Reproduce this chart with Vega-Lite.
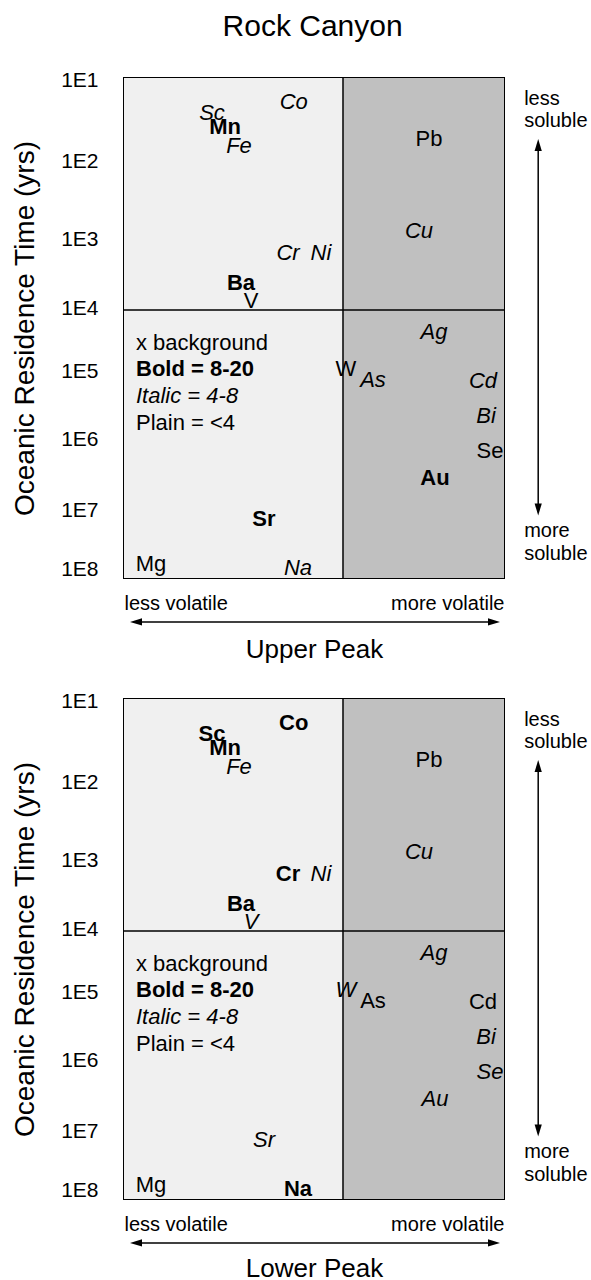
{
  "$schema": "https://vega.github.io/schema/vega-lite/v6.json",
  "padding": {"left": 10, "top": 12, "right": 5, "bottom": 5},
  "background": "white",
  "title": {"text": "Rock Canyon", "fontSize": 30, "fontWeight": "normal", "color": "black", "anchor": "middle", "offset": 26, "dx": 13},
  "config": {
    "font": "Liberation Sans",
    "view": {"stroke": "black", "strokeWidth": 2},
    "concat": {"spacing": 26}
  },
  "datasets": {
    "zones": [
      {"zone": "low", "x0": 0, "x1": 5.763, "y0": 1, "y1": 8.142857},
      {"zone": "high", "x0": 5.763, "x1": 10, "y0": 1, "y1": 8.142857}
    ],
    "lines": [
      {"x0": 5.763, "x1": 5.763, "y0": 1, "y1": 8.142857},
      {"x0": 0, "x1": 10, "y0": 4.314, "y1": 4.314},
      {"x0": 0.26, "x1": 9.79, "y0": 8.771, "y1": 8.771},
      {"x0": 10.9, "x1": 10.9, "y0": 1.93, "y1": 7.19}
    ],
    "heads": [
      {"x": 0.158, "y": 8.771, "dir": "left"},
      {"x": 9.895, "y": 8.771, "dir": "right"},
      {"x": 10.9, "y": 1.871, "dir": "up"},
      {"x": 10.9, "y": 7.25, "dir": "down"}
    ],
    "side": [
      {"label": "less", "x": 10.53, "y": 1.3},
      {"label": "soluble", "x": 10.53, "y": 1.614},
      {"label": "more", "x": 10.53, "y": 7.471},
      {"label": "soluble", "x": 10.53, "y": 7.8}
    ],
    "key": [
      {"label": "x background", "x": 0.316, "y": 4.786, "style": "plain"},
      {"label": "Bold = 8-20", "x": 0.316, "y": 5.157, "style": "bold"},
      {"label": "Italic = 4-8", "x": 0.316, "y": 5.543, "style": "italic"},
      {"label": "Plain = <4", "x": 0.316, "y": 5.929, "style": "plain"}
    ],
    "elements": [
      {"panel": "Upper Peak", "el": "Co", "x": 4.466, "y": 1.343, "style": "italic"},
      {"panel": "Upper Peak", "el": "Sc", "x": 2.316, "y": 1.5, "style": "italic"},
      {"panel": "Upper Peak", "el": "Mn", "x": 2.658, "y": 1.7, "style": "bold"},
      {"panel": "Upper Peak", "el": "Fe", "x": 3.026, "y": 1.971, "style": "italic"},
      {"panel": "Upper Peak", "el": "Cr", "x": 4.316, "y": 3.5, "style": "italic"},
      {"panel": "Upper Peak", "el": "Ni", "x": 5.184, "y": 3.5, "style": "italic"},
      {"panel": "Upper Peak", "el": "Ba", "x": 3.079, "y": 3.929, "style": "bold"},
      {"panel": "Upper Peak", "el": "V", "x": 3.342, "y": 4.179, "style": "plain"},
      {"panel": "Upper Peak", "el": "Pb", "x": 8.026, "y": 1.871, "style": "plain"},
      {"panel": "Upper Peak", "el": "Cu", "x": 7.763, "y": 3.186, "style": "italic"},
      {"panel": "Upper Peak", "el": "Ag", "x": 8.158, "y": 4.629, "style": "italic"},
      {"panel": "Upper Peak", "el": "W", "x": 5.842, "y": 5.157, "style": "plain"},
      {"panel": "Upper Peak", "el": "As", "x": 6.553, "y": 5.314, "style": "italic"},
      {"panel": "Upper Peak", "el": "Cd", "x": 9.447, "y": 5.329, "style": "italic"},
      {"panel": "Upper Peak", "el": "Bi", "x": 9.526, "y": 5.829, "style": "italic"},
      {"panel": "Upper Peak", "el": "Se", "x": 9.632, "y": 6.329, "style": "plain"},
      {"panel": "Upper Peak", "el": "Au", "x": 8.184, "y": 6.714, "style": "bold"},
      {"panel": "Upper Peak", "el": "Sr", "x": 3.684, "y": 7.3, "style": "bold"},
      {"panel": "Upper Peak", "el": "Mg", "x": 0.711, "y": 7.943, "style": "plain"},
      {"panel": "Upper Peak", "el": "Na", "x": 4.579, "y": 8.0, "style": "italic"},
      {"panel": "Lower Peak", "el": "Co", "x": 4.466, "y": 1.343, "style": "bold"},
      {"panel": "Lower Peak", "el": "Sc", "x": 2.316, "y": 1.5, "style": "bold"},
      {"panel": "Lower Peak", "el": "Mn", "x": 2.658, "y": 1.7, "style": "bold"},
      {"panel": "Lower Peak", "el": "Fe", "x": 3.026, "y": 1.971, "style": "italic"},
      {"panel": "Lower Peak", "el": "Cr", "x": 4.316, "y": 3.5, "style": "bold"},
      {"panel": "Lower Peak", "el": "Ni", "x": 5.184, "y": 3.5, "style": "italic"},
      {"panel": "Lower Peak", "el": "Ba", "x": 3.079, "y": 3.929, "style": "bold"},
      {"panel": "Lower Peak", "el": "V", "x": 3.342, "y": 4.179, "style": "italic"},
      {"panel": "Lower Peak", "el": "Pb", "x": 8.026, "y": 1.871, "style": "plain"},
      {"panel": "Lower Peak", "el": "Cu", "x": 7.763, "y": 3.186, "style": "italic"},
      {"panel": "Lower Peak", "el": "Ag", "x": 8.158, "y": 4.629, "style": "italic"},
      {"panel": "Lower Peak", "el": "W", "x": 5.842, "y": 5.157, "style": "italic"},
      {"panel": "Lower Peak", "el": "As", "x": 6.553, "y": 5.314, "style": "plain"},
      {"panel": "Lower Peak", "el": "Cd", "x": 9.447, "y": 5.329, "style": "plain"},
      {"panel": "Lower Peak", "el": "Bi", "x": 9.526, "y": 5.829, "style": "italic"},
      {"panel": "Lower Peak", "el": "Se", "x": 9.632, "y": 6.329, "style": "italic"},
      {"panel": "Lower Peak", "el": "Au", "x": 8.184, "y": 6.714, "style": "italic"},
      {"panel": "Lower Peak", "el": "Sr", "x": 3.684, "y": 7.3, "style": "italic"},
      {"panel": "Lower Peak", "el": "Mg", "x": 0.711, "y": 7.943, "style": "plain"},
      {"panel": "Lower Peak", "el": "Na", "x": 4.579, "y": 8.0, "style": "bold"}
    ]
  },
  "vconcat": [
    {
      "width": 380, "height": 500,
      "layer": [
        {"data": {"name": "zones"}, "mark": {"type": "rect"},
         "encoding": {
           "x": {"field": "x0", "type": "quantitative", "scale": {"domain": [0, 10], "nice": false, "zero": false},
                 "axis": {"values": [0, 10], "labelExpr": "datum.value == 0 ? 'less volatile' : 'more volatile'", "ticks": false, "domain": false, "grid": false, "labelFontSize": 20, "labelColor": "black", "labelPadding": 15, "labelOverlap": false, "labelFlush": true, "title": "Upper Peak", "titleFontSize": 26, "titleFontWeight": "normal", "titleColor": "black", "titlePadding": 23}},
           "x2": {"field": "x1"},
           "y": {"field": "y0", "type": "quantitative", "scale": {"domain": [1, 8.142857], "reverse": true, "nice": false, "zero": false},
                 "axis": {"values": [1, 2, 3, 4, 5, 6, 7, 8], "labelExpr": "'1E' + datum.value", "ticks": false, "domain": false, "grid": false, "labelFontSize": 21, "labelColor": "black", "labelPadding": 26, "labelOverlap": false, "labelBound": false, "labelBaseline": "middle",
                          "labelOffset": {"condition": [{"test": "datum.value == 1", "value": 2}, {"test": "datum.value == 2", "value": 13}, {"test": "datum.value == 3", "value": 21}, {"test": "datum.value == 4", "value": 20}, {"test": "datum.value == 5", "value": 13}, {"test": "datum.value == 6", "value": 11}, {"test": "datum.value == 7", "value": 12}, {"test": "datum.value == 8", "value": 1}], "value": 0},
                          "title": "Oceanic Residence Time (yrs)", "titleFontSize": 28, "titleFontWeight": "normal", "titleColor": "black", "titlePadding": 21}},
           "y2": {"field": "y1"},
           "color": {"field": "zone", "type": "nominal", "scale": {"domain": ["low", "high"], "range": ["#f0f0f0", "#c0c0c0"]}, "legend": null}
         }},
        {"data": {"name": "lines"}, "mark": {"type": "rule", "color": "black", "strokeWidth": 1.5},
         "encoding": {"x": {"field": "x0", "type": "quantitative"}, "x2": {"field": "x1"}, "y": {"field": "y0", "type": "quantitative"}, "y2": {"field": "y1"}}},
        {"data": {"name": "heads"}, "mark": {"type": "point", "filled": true, "color": "black", "opacity": 1, "size": 144, "strokeWidth": 0},
         "encoding": {"x": {"field": "x", "type": "quantitative"}, "y": {"field": "y", "type": "quantitative"},
                      "shape": {"field": "dir", "type": "nominal", "scale": {"domain": ["left", "right", "up", "down"], "range": ["M0,0L2,-0.6L2,0.6Z", "M0,0L-2,-0.6L-2,0.6Z", "M0,0L-0.6,2L0.6,2Z", "M0,0L-0.6,-2L0.6,-2Z"]}, "legend": null}}},
        {"data": {"name": "side"}, "mark": {"type": "text", "align": "left", "baseline": "middle", "fontSize": 20, "color": "black"},
         "encoding": {"x": {"field": "x", "type": "quantitative"}, "y": {"field": "y", "type": "quantitative"}, "text": {"field": "label"}}},
        {"data": {"name": "key"}, "transform": [{"filter": "datum.style == 'plain'"}], "mark": {"type": "text", "align": "left", "baseline": "middle", "fontSize": 22, "color": "black"},
         "encoding": {"x": {"field": "x", "type": "quantitative"}, "y": {"field": "y", "type": "quantitative"}, "text": {"field": "label"}}},
        {"data": {"name": "key"}, "transform": [{"filter": "datum.style == 'bold'"}], "mark": {"type": "text", "align": "left", "baseline": "middle", "fontSize": 22, "fontWeight": "bold", "color": "black"},
         "encoding": {"x": {"field": "x", "type": "quantitative"}, "y": {"field": "y", "type": "quantitative"}, "text": {"field": "label"}}},
        {"data": {"name": "key"}, "transform": [{"filter": "datum.style == 'italic'"}], "mark": {"type": "text", "align": "left", "baseline": "middle", "fontSize": 22, "fontStyle": "italic", "color": "black"},
         "encoding": {"x": {"field": "x", "type": "quantitative"}, "y": {"field": "y", "type": "quantitative"}, "text": {"field": "label"}}},
        {"data": {"name": "elements"}, "transform": [{"filter": "datum.panel == 'Upper Peak' && datum.style == 'plain'"}], "mark": {"type": "text", "align": "center", "baseline": "middle", "fontSize": 22, "color": "black"},
         "encoding": {"x": {"field": "x", "type": "quantitative"}, "y": {"field": "y", "type": "quantitative"}, "text": {"field": "el"}}},
        {"data": {"name": "elements"}, "transform": [{"filter": "datum.panel == 'Upper Peak' && datum.style == 'bold'"}], "mark": {"type": "text", "align": "center", "baseline": "middle", "fontSize": 22, "fontWeight": "bold", "color": "black"},
         "encoding": {"x": {"field": "x", "type": "quantitative"}, "y": {"field": "y", "type": "quantitative"}, "text": {"field": "el"}}},
        {"data": {"name": "elements"}, "transform": [{"filter": "datum.panel == 'Upper Peak' && datum.style == 'italic'"}], "mark": {"type": "text", "align": "center", "baseline": "middle", "fontSize": 22, "fontStyle": "italic", "color": "black"},
         "encoding": {"x": {"field": "x", "type": "quantitative"}, "y": {"field": "y", "type": "quantitative"}, "text": {"field": "el"}}}
      ]
    },
    {
      "width": 380, "height": 500,
      "layer": [
        {"data": {"name": "zones"}, "mark": {"type": "rect"},
         "encoding": {
           "x": {"field": "x0", "type": "quantitative", "scale": {"domain": [0, 10], "nice": false, "zero": false},
                 "axis": {"values": [0, 10], "labelExpr": "datum.value == 0 ? 'less volatile' : 'more volatile'", "ticks": false, "domain": false, "grid": false, "labelFontSize": 20, "labelColor": "black", "labelPadding": 15, "labelOverlap": false, "labelFlush": true, "title": "Lower Peak", "titleFontSize": 26, "titleFontWeight": "normal", "titleColor": "black", "titlePadding": 21}},
           "x2": {"field": "x1"},
           "y": {"field": "y0", "type": "quantitative", "scale": {"domain": [1, 8.142857], "reverse": true, "nice": false, "zero": false},
                 "axis": {"values": [1, 2, 3, 4, 5, 6, 7, 8], "labelExpr": "'1E' + datum.value", "ticks": false, "domain": false, "grid": false, "labelFontSize": 21, "labelColor": "black", "labelPadding": 26, "labelOverlap": false, "labelBound": false, "labelBaseline": "middle",
                          "labelOffset": {"condition": [{"test": "datum.value == 1", "value": 2}, {"test": "datum.value == 2", "value": 13}, {"test": "datum.value == 3", "value": 21}, {"test": "datum.value == 4", "value": 20}, {"test": "datum.value == 5", "value": 13}, {"test": "datum.value == 6", "value": 11}, {"test": "datum.value == 7", "value": 12}, {"test": "datum.value == 8", "value": 1}], "value": 0},
                          "title": "Oceanic Residence Time (yrs)", "titleFontSize": 28, "titleFontWeight": "normal", "titleColor": "black", "titlePadding": 21}},
           "y2": {"field": "y1"},
           "color": {"field": "zone", "type": "nominal", "scale": {"domain": ["low", "high"], "range": ["#f0f0f0", "#c0c0c0"]}, "legend": null}
         }},
        {"data": {"name": "lines"}, "mark": {"type": "rule", "color": "black", "strokeWidth": 1.5},
         "encoding": {"x": {"field": "x0", "type": "quantitative"}, "x2": {"field": "x1"}, "y": {"field": "y0", "type": "quantitative"}, "y2": {"field": "y1"}}},
        {"data": {"name": "heads"}, "mark": {"type": "point", "filled": true, "color": "black", "opacity": 1, "size": 144, "strokeWidth": 0},
         "encoding": {"x": {"field": "x", "type": "quantitative"}, "y": {"field": "y", "type": "quantitative"},
                      "shape": {"field": "dir", "type": "nominal", "scale": {"domain": ["left", "right", "up", "down"], "range": ["M0,0L2,-0.6L2,0.6Z", "M0,0L-2,-0.6L-2,0.6Z", "M0,0L-0.6,2L0.6,2Z", "M0,0L-0.6,-2L0.6,-2Z"]}, "legend": null}}},
        {"data": {"name": "side"}, "mark": {"type": "text", "align": "left", "baseline": "middle", "fontSize": 20, "color": "black"},
         "encoding": {"x": {"field": "x", "type": "quantitative"}, "y": {"field": "y", "type": "quantitative"}, "text": {"field": "label"}}},
        {"data": {"name": "key"}, "transform": [{"filter": "datum.style == 'plain'"}], "mark": {"type": "text", "align": "left", "baseline": "middle", "fontSize": 22, "color": "black"},
         "encoding": {"x": {"field": "x", "type": "quantitative"}, "y": {"field": "y", "type": "quantitative"}, "text": {"field": "label"}}},
        {"data": {"name": "key"}, "transform": [{"filter": "datum.style == 'bold'"}], "mark": {"type": "text", "align": "left", "baseline": "middle", "fontSize": 22, "fontWeight": "bold", "color": "black"},
         "encoding": {"x": {"field": "x", "type": "quantitative"}, "y": {"field": "y", "type": "quantitative"}, "text": {"field": "label"}}},
        {"data": {"name": "key"}, "transform": [{"filter": "datum.style == 'italic'"}], "mark": {"type": "text", "align": "left", "baseline": "middle", "fontSize": 22, "fontStyle": "italic", "color": "black"},
         "encoding": {"x": {"field": "x", "type": "quantitative"}, "y": {"field": "y", "type": "quantitative"}, "text": {"field": "label"}}},
        {"data": {"name": "elements"}, "transform": [{"filter": "datum.panel == 'Lower Peak' && datum.style == 'plain'"}], "mark": {"type": "text", "align": "center", "baseline": "middle", "fontSize": 22, "color": "black"},
         "encoding": {"x": {"field": "x", "type": "quantitative"}, "y": {"field": "y", "type": "quantitative"}, "text": {"field": "el"}}},
        {"data": {"name": "elements"}, "transform": [{"filter": "datum.panel == 'Lower Peak' && datum.style == 'bold'"}], "mark": {"type": "text", "align": "center", "baseline": "middle", "fontSize": 22, "fontWeight": "bold", "color": "black"},
         "encoding": {"x": {"field": "x", "type": "quantitative"}, "y": {"field": "y", "type": "quantitative"}, "text": {"field": "el"}}},
        {"data": {"name": "elements"}, "transform": [{"filter": "datum.panel == 'Lower Peak' && datum.style == 'italic'"}], "mark": {"type": "text", "align": "center", "baseline": "middle", "fontSize": 22, "fontStyle": "italic", "color": "black"},
         "encoding": {"x": {"field": "x", "type": "quantitative"}, "y": {"field": "y", "type": "quantitative"}, "text": {"field": "el"}}}
      ]
    }
  ]
}
